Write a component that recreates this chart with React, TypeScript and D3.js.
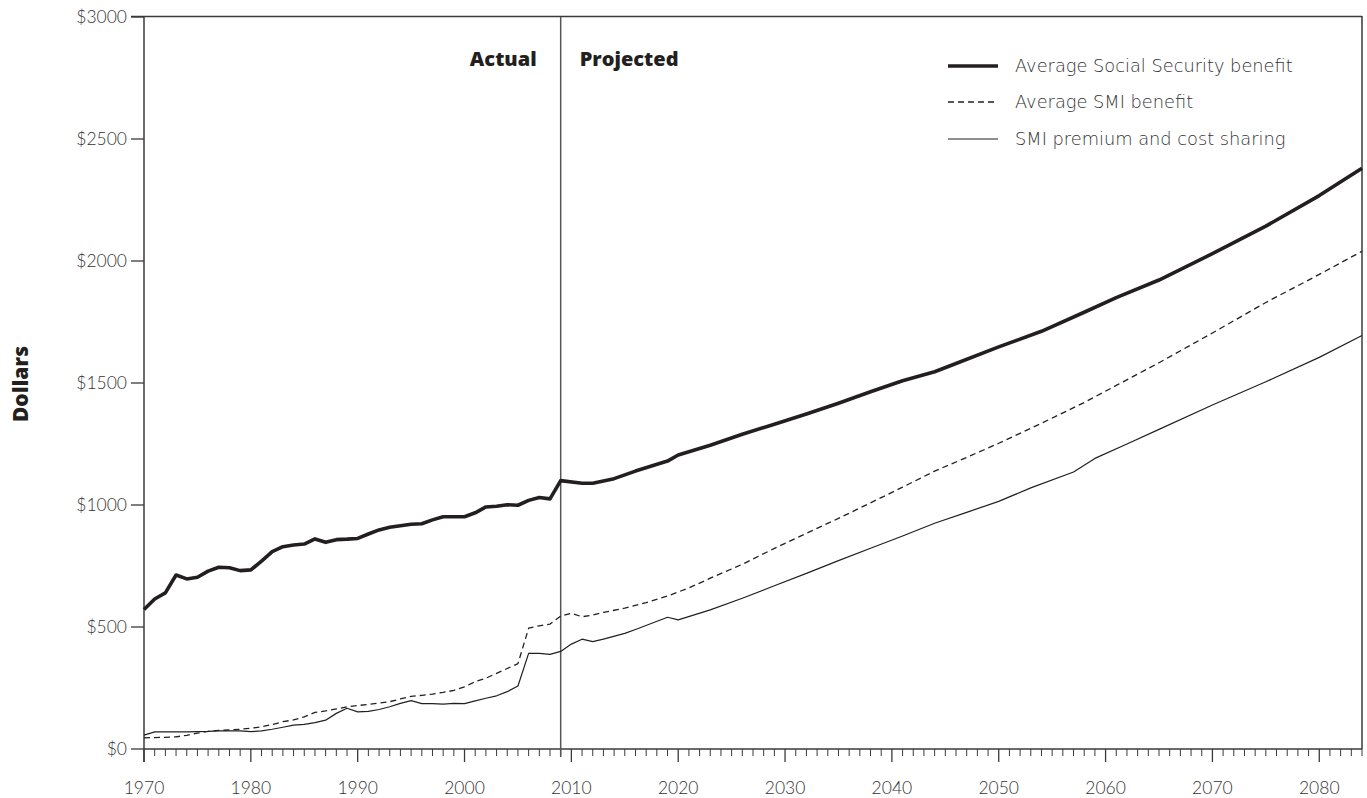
import React from "react";
import * as d3 from "d3";

// ---------- data ----------
const actualYears: number[] = d3.range(1970, 2010);

const ssActual: number[] = [572, 615, 640, 713, 697, 704, 729, 745, 743, 731, 734, 770, 809, 829, 836, 840, 861, 847, 858, 860, 863, 881, 898, 909, 915, 921, 923, 939, 952, 952, 952, 968, 992, 995, 1001, 999, 1019, 1031, 1025, 1100];
const smiBenefitActual: number[] = [46, 47, 48, 50, 56, 65, 72, 76, 78, 81, 85, 91, 100, 112, 119, 132, 150, 156, 164, 173, 178, 183, 188, 194, 205, 216, 220, 225, 232, 240, 255, 276, 290, 310, 330, 350, 495, 505, 512, 545];
const smiPremiumActual: number[] = [57, 70, 70, 70, 70, 71, 72, 74, 74, 74, 71, 74, 81, 89, 98, 101, 108, 118, 146, 167, 152, 154, 162, 173, 187, 198, 186, 186, 184, 187, 186, 197, 208, 218, 235, 258, 392, 392, 388, 400];

const ssProjYears: number[] = [2009, 2011, 2012, 2014, 2016, 2019, 2020, 2023, 2026, 2029, 2032, 2035, 2038, 2041, 2044, 2046, 2050, 2054, 2058, 2061, 2065, 2070, 2075, 2080, 2084];
const ssProj: number[] = [1100, 1089, 1089, 1108, 1139, 1180, 1205, 1245, 1290, 1331, 1373, 1417, 1464, 1509, 1546, 1580, 1648, 1712, 1790, 1850, 1922, 2030, 2143, 2268, 2380];

const smiBenefitProjYears: number[] = [2009, 2010, 2011, 2012, 2013, 2015, 2017, 2019, 2021, 2023, 2026, 2029, 2032, 2035, 2038, 2041, 2044, 2047, 2050, 2054, 2058, 2061, 2065, 2070, 2075, 2080, 2084];
const smiBenefitProj: number[] = [545, 556, 542, 549, 560, 577, 600, 627, 660, 700, 757, 822, 884, 945, 1009, 1073, 1139, 1195, 1253, 1335, 1420, 1490, 1583, 1705, 1830, 1945, 2040];

const smiPremiumProjYears: number[] = [2009, 2010, 2011, 2012, 2013, 2015, 2016, 2019, 2020, 2023, 2026, 2029, 2032, 2035, 2038, 2041, 2044, 2047, 2050, 2053, 2057, 2059, 2062, 2065, 2070, 2075, 2080, 2084];
const smiPremiumProj: number[] = [400, 430, 450, 440, 450, 474, 490, 540, 529, 570, 618, 669, 720, 772, 823, 873, 925, 970, 1015, 1070, 1135, 1191, 1250, 1310, 1410, 1505, 1605, 1695];

const yTicks: number[] = [0, 500, 1000, 1500, 2000, 2500, 3000];
const xLabelYears: number[] = [1970, 1980, 1990, 2000, 2010, 2020, 2030, 2040, 2050, 2060, 2070, 2080];
const legendLabels: string[] = ["Average Social Security benefit", "Average SMI benefit", "SMI premium and cost sharing"];
const dividerYear = 2009;

// ---------- layout ----------
const W = 1367;
const H = 798;
const left = 144;
const right = 1362;
const top = 17;
const bottom = 749;

const INK = "#231f20";
const AXIS = "#3a3a3a";
const LIGHT_FONT = "Lato, 'Open Sans', sans-serif";
const LEGEND_FONT = "'DejaVu Sans', Lato, sans-serif";
const BOLD_FONT = "'Open Sans', Lato, sans-serif";

export default function App() {
  const x = d3.scaleLinear().domain([1970, 2084]).range([left, right]);
  const y = d3.scaleLinear().domain([0, 3000]).range([bottom, top]);

  const line = d3
    .line<[number, number]>()
    .x((d) => x(d[0]))
    .y((d) => y(d[1]));

  const zip = (ys: number[], vs: number[]): [number, number][] => ys.map((yr, i) => [yr, vs[i]]);

  const ssPts = [...zip(actualYears, ssActual), ...zip(ssProjYears, ssProj).slice(1)];
  const smiBPts = [...zip(actualYears, smiBenefitActual), ...zip(smiBenefitProjYears, smiBenefitProj).slice(1)];
  const smiPPts = [...zip(actualYears, smiPremiumActual), ...zip(smiPremiumProjYears, smiPremiumProj).slice(1)];

  const minorYears = d3.range(1970, 2085);

  const legendX0 = 948;
  const legendX1 = 998;
  const legendRows = [66, 102, 139];
  const legendStyles = [
    { w: 3.6, dash: undefined as string | undefined },
    { w: 1.3, dash: "6,4" },
    { w: 1.2, dash: undefined as string | undefined },
  ];

  return (
    <svg width={W} height={H} style={{ position: "absolute", left: 0, top: 0, background: "#fff" }}>
      {/* frame */}
      <line x1={left - 13} x2={right} y1={top - 0.5} y2={top - 0.5} stroke={AXIS} strokeWidth={1.5} />
      <line x1={right} x2={right} y1={top - 1} y2={bottom} stroke={AXIS} strokeWidth={1.5} />
      <line x1={left} x2={left} y1={top - 1} y2={bottom + 13} stroke={AXIS} strokeWidth={1.5} />
      <line x1={left} x2={right} y1={bottom} y2={bottom} stroke={AXIS} strokeWidth={1.5} />

      {/* y ticks */}
      {yTicks.map((v) => (
        <g key={v}>
          <line x1={left - 13} x2={left} y1={y(v)} y2={y(v)} stroke={AXIS} strokeWidth={1.3} />
          <text x={left - 17} y={y(v)} dy="0.36em" textAnchor="end" fontFamily={LIGHT_FONT} fontWeight={300} fontSize={17.5} fill="#333">
            {`$${v}`}
          </text>
        </g>
      ))}

      {/* x ticks */}
      {minorYears.map((yr) => {
        const major = (yr - 1970) % 10 === 0;
        return (
          <line key={yr} x1={x(yr)} x2={x(yr)} y1={bottom} y2={bottom + (major ? 13 : 7)} stroke={AXIS} strokeWidth={major ? 1.3 : 1} />
        );
      })}
      {xLabelYears.map((yr) => (
        <text key={yr} x={x(yr)} y={794} textAnchor="middle" fontFamily={LIGHT_FONT} fontWeight={300} fontSize={17.5} fill="#333">
          {yr}
        </text>
      ))}

      {/* y axis title */}
      <text transform={`translate(28,${(top + bottom) / 2 + 1}) rotate(-90)`} textAnchor="middle" fontFamily={BOLD_FONT} fontWeight={800} fontSize={21} fill={INK}>
        Dollars
      </text>

      {/* divider */}
      <line x1={x(dividerYear)} x2={x(dividerYear)} y1={top} y2={bottom + 8} stroke="#555" strokeWidth={1.5} />
      <text x={x(dividerYear) - 24} y={66} textAnchor="end" fontFamily={BOLD_FONT} fontWeight={800} fontSize={20} fill={INK}>
        Actual
      </text>
      <text x={x(dividerYear) + 19} y={66} textAnchor="start" fontFamily={BOLD_FONT} fontWeight={800} fontSize={20} fill={INK}>
        Projected
      </text>

      {/* series */}
      <path d={line(smiPPts) ?? ""} fill="none" stroke={INK} strokeWidth={1.2} strokeLinejoin="round" />
      <path d={line(smiBPts) ?? ""} fill="none" stroke={INK} strokeWidth={1.3} strokeDasharray="6,4" strokeLinejoin="round" />
      <path d={line(ssPts) ?? ""} fill="none" stroke={INK} strokeWidth={3.6} strokeLinejoin="round" />

      {/* legend */}
      {legendLabels.map((lab, i) => (
        <g key={lab}>
          <line x1={legendX0} x2={legendX1} y1={legendRows[i]} y2={legendRows[i]} stroke={INK} strokeWidth={legendStyles[i].w} strokeDasharray={legendStyles[i].dash} />
          <text x={1015} y={legendRows[i]} dy="0.36em" fontFamily={LEGEND_FONT} fontWeight={200} fontSize={17.8} fill="#333">
            {lab}
          </text>
        </g>
      ))}
    </svg>
  );
}
